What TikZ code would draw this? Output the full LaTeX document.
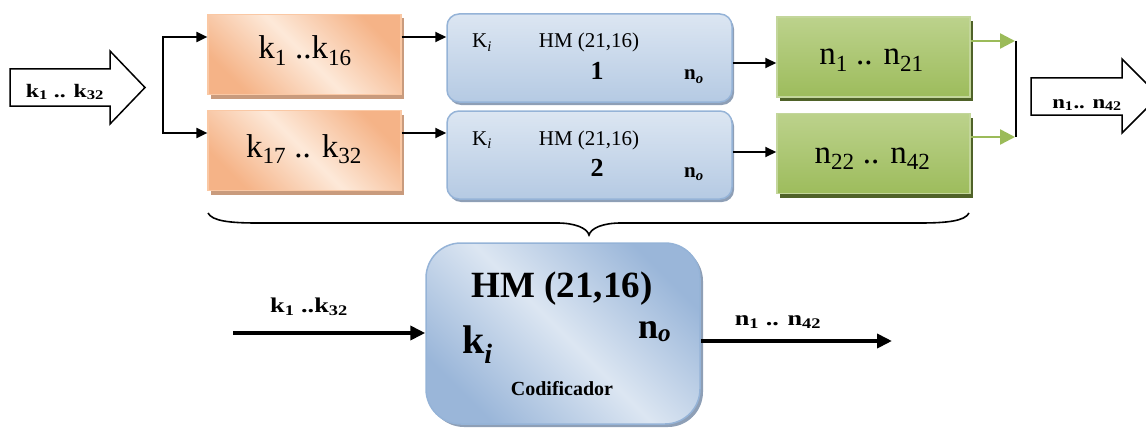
\documentclass[tikz,border=0pt]{standalone}
\usepackage{fontspec}
\setmainfont{Liberation Serif}
\usetikzlibrary{arrows.meta,shadows}
\definecolor{olight}{HTML}{FDE9D9}
\definecolor{odark}{HTML}{F5B387}
\definecolor{oborder}{HTML}{FAC8A4}
\definecolor{oshadow}{HTML}{C99B7D}
\definecolor{blight}{HTML}{DCE6F2}
\definecolor{bdark}{HTML}{B5CAE3}
\definecolor{bdeep}{HTML}{9AB6D9}
\definecolor{bborder}{HTML}{95B3D7}
\definecolor{bshadow}{HTML}{8E9FB6}
\definecolor{gtop}{HTML}{BCD28C}
\definecolor{gbot}{HTML}{9DBC5C}
\definecolor{gborder}{HTML}{C3D69B}
\definecolor{gshadow}{HTML}{4F6228}
\definecolor{garrow}{HTML}{9BBB59}
\newcommand\sbs[1]{\textsubscript{#1}}
\newcommand\fsz[1]{\fontsize{#1}{#1}\selectfont}
\tikzset{
  obox/.style={draw=oborder, line width=1.2pt, left color=odark, right color=odark, middle color=olight, shading angle=-45,
    minimum width=193pt, minimum height=80pt, inner sep=0pt,
    general shadow={fill=oshadow, shadow xshift=3pt, shadow yshift=-4pt}},
  bbox/.style={draw=bborder, line width=1.5pt, top color=blight, bottom color=bdark, rounded corners=12pt,
    minimum width=285pt, minimum height=88pt, inner sep=0pt,
    general shadow={fill=bshadow, shadow xshift=2pt, shadow yshift=-3pt}},
  gbox/.style={draw=gborder, line width=1.5pt, top color=gtop, bottom color=gbot,
    minimum width=193pt, minimum height=80pt, inner sep=0pt,
    general shadow={fill=gshadow, shadow xshift=3pt, shadow yshift=-4pt}},
  hmbox/.style={draw=bborder, line width=1.5pt, left color=bdeep, right color=bdeep, middle color=blight, shading angle=-45,
    rounded corners=35pt, minimum width=274pt, minimum height=181pt, inner sep=0pt,
    general shadow={fill=bshadow, shadow xshift=3pt, shadow yshift=-3pt}},
  txt/.style={inner sep=0pt, anchor=base, text=black},
  arr/.style={line width=2pt, -{Triangle[length=11pt,width=10pt]}},
  bigarr/.style={line width=4.5pt, -{Triangle[length=15pt,width=14pt]}},
  garr/.style={line width=2.5pt, draw=garrow, -{Triangle[length=15pt,width=15pt,fill=garrow]}},
  blockarr/.style={draw=black, line width=1.5pt, fill=white, line join=miter},
}
\begin{document}
\begin{tikzpicture}[x=1pt,y=-1pt]
\useasboundingbox (0,0) rectangle (1146,428);
\begin{scope}
\clip (0,0) rectangle (1146,428);
% left block arrow
\draw[blockarr] (10,69) -- (110,69) -- (110,51) -- (145,87.5) -- (110,124) -- (110,106) -- (10,106) -- cycle;
\node[txt, font=\bfseries\fsz{19}] (lin) at (65,97) {\scalebox{1.25}[1]{k\sbs{1} .. k\sbs{32}}};
% right block arrow
\draw[blockarr] (1031,78) -- (1122,78) -- (1122,59) -- (1159,96) -- (1122,133) -- (1122,115) -- (1031,115) -- cycle;
\node[txt, font=\bfseries\fsz{19}] (rout) at (1087,108) {\scalebox{1.2}[1]{n\sbs{1}.. n\sbs{42}}};

% orange boxes
\node[obox] (o1) at (304.5,54.5) {};
\node[obox] (o2) at (304.5,150.5) {};
\node[txt, font=\fsz{33}] (o1t) at (305,59) {k\sbs{1} ..k\sbs{16}};
\node[txt, font=\fsz{33}] (o2t) at (304,157) {k\sbs{17} .. k\sbs{32}};

% blue boxes
\node[bbox] (b1) at (589.5,58) {};
\node[bbox] (b2) at (589.5,155) {};
\node[txt, anchor=base west, font=\fsz{21}] (b1k) at (472,48) {K\sbs{\itshape i}};
\node[txt, font=\fsz{21}] (b1h) at (589,48) {HM (21,16)};
\node[txt, font=\bfseries\fsz{26}] (b1n) at (597,79) {1};
\node[txt, anchor=base west, font=\bfseries\fsz{21}] (b1o) at (684,80) {n\sbs{\itshape o}};
\node[txt, anchor=base west, font=\fsz{21}] (b2k) at (472,145) {K\sbs{\itshape i}};
\node[txt, font=\fsz{21}] (b2h) at (589,145) {HM (21,16)};
\node[txt, font=\bfseries\fsz{26}] (b2n) at (597,176) {2};
\node[txt, anchor=base west, font=\bfseries\fsz{21}] (b2o) at (684,177) {n\sbs{\itshape o}};

% green boxes
\node[gbox] (g1) at (873.5,57) {};
\node[gbox] (g2) at (873.5,153.5) {};
\node[txt, font=\fsz{33}] (g1t) at (871.5,65) {n\sbs{1} .. n\sbs{21}};
\node[txt, font=\fsz{33}] (g2t) at (872.5,163) {n\sbs{22} .. n\sbs{42}};

% branch
\coordinate (bt) at (163,37);
\coordinate (bb) at (163,133);
\draw[line width=2pt] (bt) -- (bb);
\draw[arr] ([xshift=-1pt]bt) -- (bt -| o1.west);
\draw[arr] ([xshift=-1pt]bb) -- (bb -| o2.west);
\draw[arr] (o1.east |- bt) -- (b1.west |- bt);
\draw[arr] (o2.east |- bb) -- (b2.west |- bb);
\coordinate (m1) at (750,63);
\coordinate (m2) at (750,152);
\draw[arr] (b1.east |- m1) -- (g1.west |- m1);
\draw[arr] (b2.east |- m2) -- (g2.west |- m2);
% join
\coordinate (j1) at (1016,41);
\coordinate (j2) at (1016,137);
\draw[garr] (g1.east |- j1) -- ([xshift=-1pt]j1);
\draw[garr] (g2.east |- j2) -- ([xshift=-1pt]j2);
\draw[line width=1.5pt] (j1) -- (j2);

% brace
\draw[line width=1.6pt] (208,213) .. controls (212,221) and (230,223) .. (257,223) -- (557,223)
  .. controls (575,223) and (587,228) .. (589,235) .. controls (591,228) and (603,223) .. (621,223)
  -- (920,223) .. controls (947,223) and (965,221) .. (969,213);

% big HM box
\node[hmbox] (hm) at (563,333.5) {};
\node[txt, font=\bfseries\fsz{37}] (hmt) at (562,297) {HM (21,16)};
\node[txt, anchor=base west, font=\bfseries\fsz{40}] (hmk) at (462,353) {k\sbs{\itshape i}};
\node[txt, anchor=base west, font=\bfseries\fsz{36}] (hmn) at (638,338) {n\sbs{\itshape o}};
\node[txt, font=\bfseries\fsz{20}] (hmc) at (562,395) {Codificador};

\coordinate (ain) at (233,333);
\coordinate (aout) at (892,341);
\draw[bigarr] (ain) -- (ain -| hm.west);
\draw[bigarr] (hm.east |- aout) -- (aout);
\node[txt, font=\bfseries\fsz{21}] (ainl) at (309,312) {\scalebox{1.25}[1]{k\sbs{1} ..k\sbs{32}}};
\node[txt, font=\bfseries\fsz{21}] (aoutl) at (778,325) {\scalebox{1.25}[1]{n\sbs{1} .. n\sbs{42}}};
\end{scope}
\end{tikzpicture}
\end{document}
